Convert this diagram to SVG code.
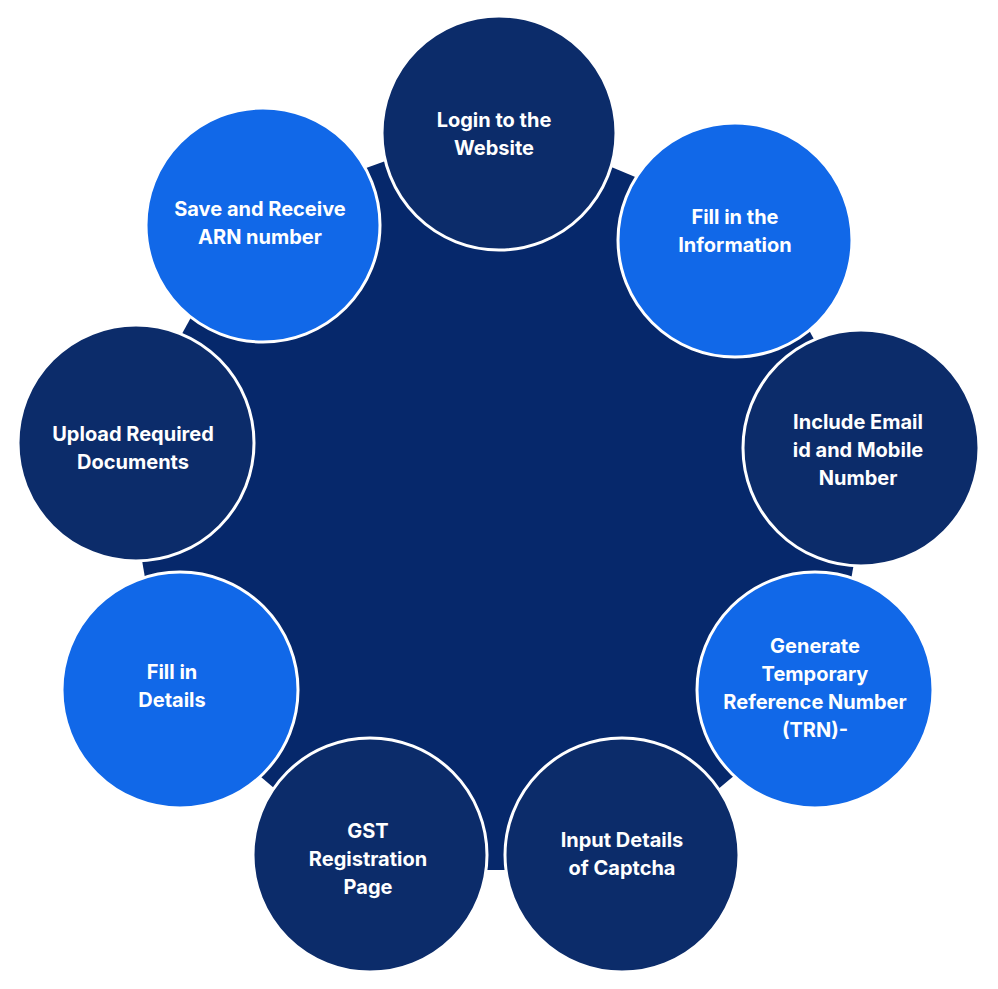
<svg xmlns="http://www.w3.org/2000/svg" width="998" height="989" viewBox="0 0 998 989">
<style>
.d{fill:#0c2c6a;stroke:#fff;stroke-width:3}
.b{fill:#1168e8;stroke:#fff;stroke-width:3}
text{font-family:Inter,"Noto Sans",sans-serif;font-weight:700;font-size:20px;fill:#fff;text-anchor:middle}
</style>
<rect width="998" height="989" fill="#fff"/>
<g id="connectors">
<polygon points="499,120 750,225 875,448 830,695 622,870 370,870 165,695 122,443 250,210" fill="#06286b"/>
</g>
<g id="n1"><circle class="d" cx="499" cy="133" r="117"/><text x="494" y="127">Login to the</text><text x="494" y="155">Website</text></g>
<g id="n2"><circle class="b" cx="735" cy="240" r="117"/><text x="735" y="224">Fill in the</text><text x="735" y="252">Information</text></g>
<g id="n3"><circle class="d" cx="861" cy="448" r="118"/><text x="858" y="429">Include Email</text><text x="858" y="457">id and Mobile</text><text x="858" y="485">Number</text></g>
<g id="n4"><circle class="b" cx="815" cy="690" r="118"/><text x="815" y="653">Generate</text><text x="815" y="681">Temporary</text><text x="815" y="709">Reference Number</text><text x="815" y="737">(TRN)-</text></g>
<g id="n5"><circle class="d" cx="622" cy="855" r="117"/><text x="622" y="847">Input Details</text><text x="622" y="875">of Captcha</text></g>
<g id="n6"><circle class="d" cx="370" cy="855" r="117"/><text x="368" y="838">GST</text><text x="368" y="866">Registration</text><text x="368" y="894">Page</text></g>
<g id="n7"><circle class="b" cx="180" cy="690" r="118"/><text x="172" y="679">Fill in</text><text x="172" y="707">Details</text></g>
<g id="n8"><circle class="d" cx="136" cy="443" r="118"/><text x="133" y="441">Upload Required</text><text x="133" y="469">Documents</text></g>
<g id="n9"><circle class="b" cx="263" cy="225" r="117"/><text x="260" y="216">Save and Receive</text><text x="260" y="244">ARN number</text></g>
</svg>
